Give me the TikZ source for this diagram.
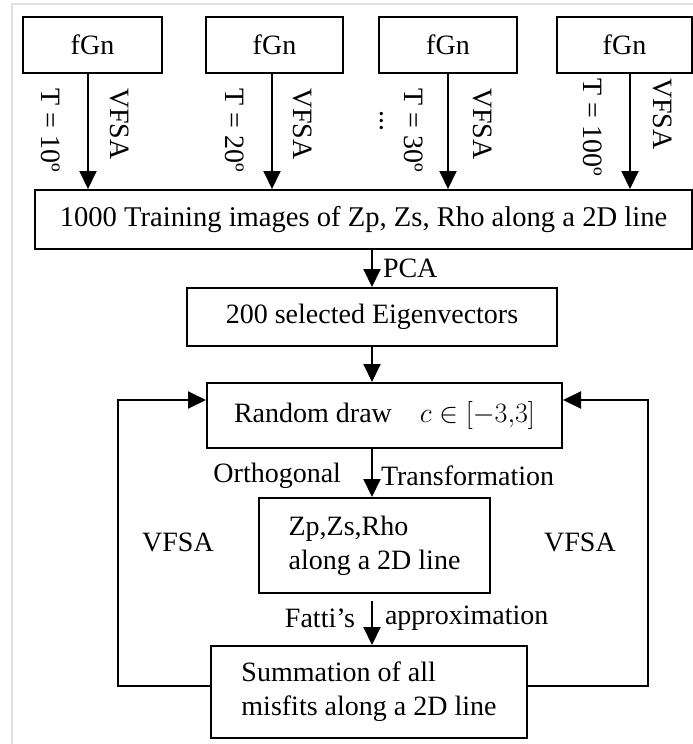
\RequirePackage{fix-cm}
\documentclass[tikz,border=0pt]{standalone}
\usepackage{fontspec}
\setmainfont{Liberation Serif}
\usepackage{tikz}
\usetikzlibrary{arrows.meta}
\usetikzlibrary{positioning}

\begin{document}
\begin{tikzpicture}[x=1pt,y=-1pt,font=\fontsize{28}{34}\selectfont]

	\tikzset{box/.style = {shape=rectangle,draw,line width=2pt,inner sep=0pt}}
	\tikzset{edge/.style = {->,line width=2pt,>={Triangle[width=17pt,length=18pt]}}}
	\tikzset{vlabel/.style = {rotate=-90,anchor=west,inner sep=0pt}}
	\tikzset{lbl/.style = {inner sep=0pt}}
	\useasboundingbox (0,0) rectangle (693,744);
	% frame
	\draw[black!12,line width=2pt] (12,744) -- (12,4) -- (693,4);
	% boxes
	\node[box,minimum width=139,minimum height=56] (f1) at (92.5,45) {fGn};
	\node[box,minimum width=137,minimum height=56] (f2) at (274.5,45) {fGn};
	\node[box,minimum width=138,minimum height=56] (f3) at (448,45) {fGn};
	\node[box,minimum width=135,minimum height=56] (f4) at (624.5,45) {fGn};
	\node[box,minimum width=657,minimum height=59,font=\fontsize{28.6}{34}\selectfont] (train) at (363.5,219.5)
		{1000 Training images of Zp, Zs, Rho along a 2D line};
	\node[box,minimum width=370,minimum height=58] (eigen) at (372,317)
		{200 selected Eigenvectors};
	\node[box,minimum width=355,minimum height=65] (rnd) at (384.5,415.5)
		{Random draw\quad$c\in[-3{,}3]$};
	\node[box,minimum width=231,minimum height=95,align=left] (zp) at (374.5,545.5)
		{Zp,Zs,Rho\\along a 2D line};
	\node[box,minimum width=316,minimum height=92,align=left] (sum) at (369,692)
		{Summation of all\\misfits along a 2D line};
	\coordinate (lloop) at (118,400);
	\coordinate (rloop) at (648,400);
	% top labels
	\node[vlabel] (t1) at (51,88) {T = 10º};
	\node[vlabel] (v1) at (120,88) {VFSA};
	\node[vlabel] (t2) at (235,88) {T = 20º};
	\node[vlabel] (v2) at (303,88) {VFSA};
	\node[vlabel] (dots) at (382,110) {...};
	\node[vlabel] (t3) at (414,88) {T = 30º};
	\node[vlabel] (v3) at (483,88) {VFSA};
	\node[vlabel] (t4) at (593,78) {T = 100º};
	\node[vlabel] (v4) at (663,78) {VFSA};
	\node[lbl] (vl) at (178,542) {VFSA};
	\node[lbl] (vr) at (580,542) {VFSA};
	% edges
	\draw[edge] ([xshift=-4.5]f1.south) -- ([xshift=-4.5]f1.south |- train.north);
	\draw[edge] ([xshift=-2.5]f2.south) -- ([xshift=-2.5]f2.south |- train.north);
	\draw[edge] (f3.south) -- (f3.south |- train.north);
	\draw[edge] ([xshift=5.5]f4.south) -- ([xshift=5.5]f4.south |- train.north);
	\draw[edge] (train.south -| eigen.south) -- (eigen.north)
		node[lbl,midway,right=10pt] {PCA};
	\draw[edge] (eigen.south) -- (eigen.south |- rnd.north);
	\draw[edge] (rnd.south -| eigen.south) -- (zp.north -| eigen.south)
		node[lbl,midway,left=30pt,yshift=-3] {Orthogonal}
		node[lbl,midway,right=8pt,yshift=-3] {Transformation};
	\draw[edge] ([yshift=-7]zp.south -| eigen.south) -- (sum.north -| eigen.south)
		node[lbl,midway,left=16pt,yshift=5] {Fatti’s}
		node[lbl,midway,right=12pt,yshift=5] {approximation};
	\draw[edge] ([yshift=6]sum.west) -| (lloop) -- (lloop -| rnd.west);
	\draw[edge] ([yshift=6]sum.east) -| (rloop) -- (rloop -| rnd.east);
\end{tikzpicture}
\end{document}
